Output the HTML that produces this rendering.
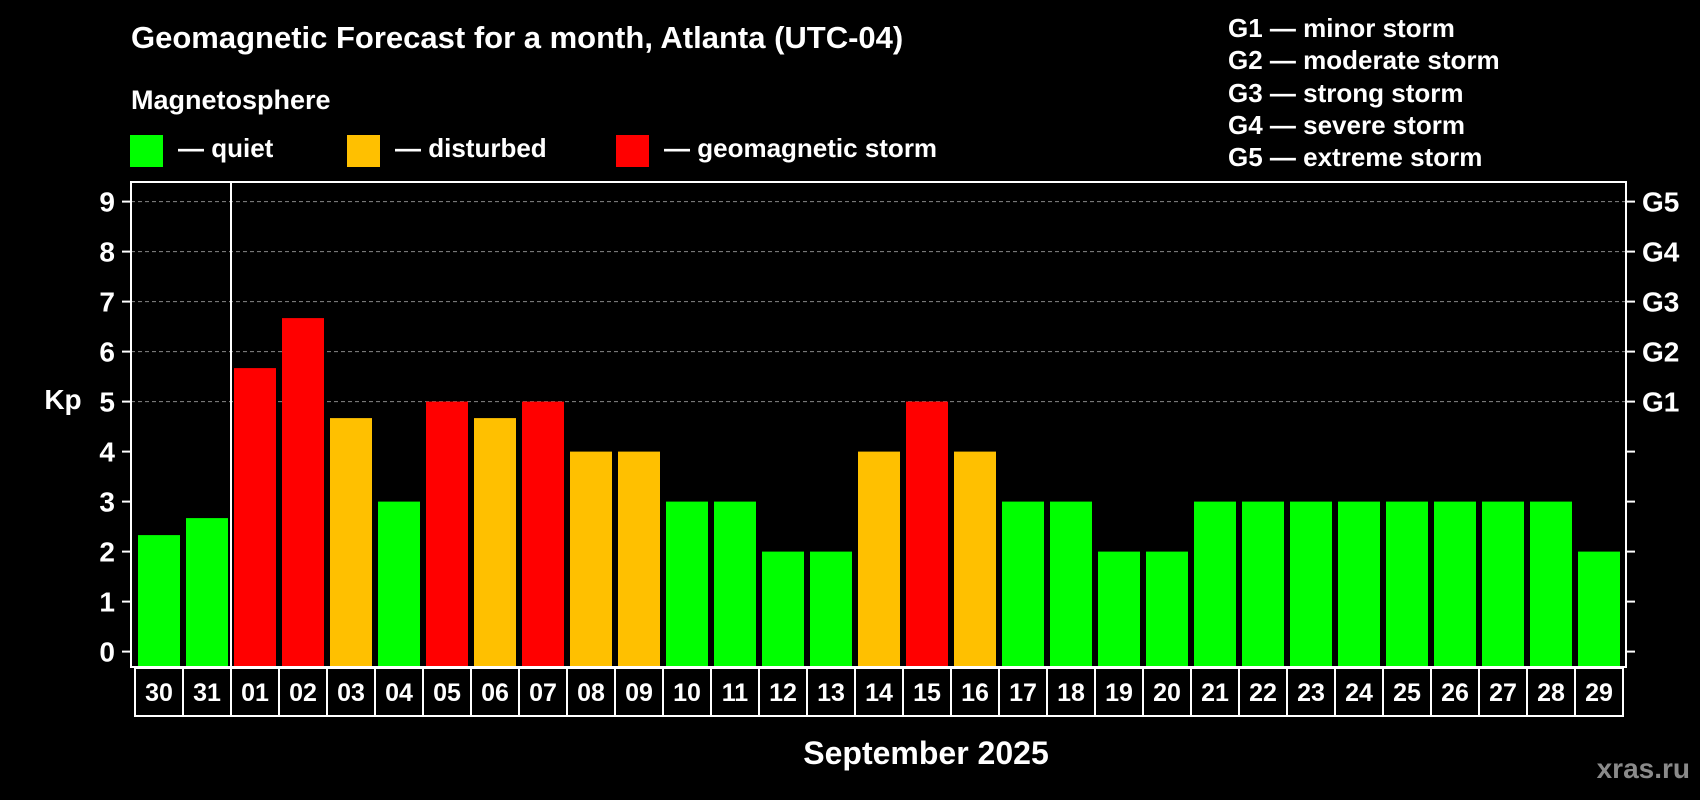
<!DOCTYPE html>
<html><head><meta charset="utf-8"><style>
html,body{margin:0;padding:0;background:#000;}
svg{display:block;font-family:"Liberation Sans",Arial,sans-serif;font-weight:bold;}
</style></head><body>
<svg id="chart" width="1700" height="800" viewBox="0 0 1700 800" xmlns="http://www.w3.org/2000/svg">
<rect width="1700" height="800" fill="#000"/>
<text x="131" y="48" fill="#fff" font-size="31">Geomagnetic Forecast for a month, Atlanta (UTC-04)</text>
<text x="131" y="109" fill="#fff" font-size="27">Magnetosphere</text>
<g><rect x="130" y="135" width="33" height="32" fill="#00ff00"/><text x="178" y="157" fill="#fff" font-size="26">— quiet</text></g>
<g><rect x="347" y="135" width="33" height="32" fill="#ffc000"/><text x="395" y="157" fill="#fff" font-size="26">— disturbed</text></g>
<g><rect x="616" y="135" width="33" height="32" fill="#ff0000"/><text x="664" y="157" fill="#fff" font-size="26">— geomagnetic storm</text></g>
<g fill="#fff" font-size="26">
<text x="1228" y="37">G1 — minor storm</text>
<text x="1228" y="69">G2 — moderate storm</text>
<text x="1228" y="102">G3 — strong storm</text>
<text x="1228" y="134">G4 — severe storm</text>
<text x="1228" y="166">G5 — extreme storm</text>
</g>
<g id="grid"></g>
<g id="bars"></g>
<g id="axes"></g>
<text x="63" y="409" fill="#fff" font-size="28" text-anchor="middle">Kp</text>
<text x="926" y="764" fill="#fff" font-size="32" text-anchor="middle">September 2025</text>
<text x="1690" y="778" fill="#8a8a8a" font-size="28" text-anchor="end">xras.ru</text>
</svg>
<script>
const days = ["30","31","01","02","03","04","05","06","07","08","09","10","11","12","13","14","15","16","17","18","19","20","21","22","23","24","25","26","27","28","29"];
const kpValues = [2.33,2.67,5.67,6.67,4.67,3,5,4.67,5,4,4,3,3,2,2,4,5,4,3,3,2,2,3,3,3,3,3,3,3,3,2];
const yTicks = [0,1,2,3,4,5,6,7,8,9];
const gLabels = ["G1","G2","G3","G4","G5"];
const gLevels = [5,6,7,8,9];

const NS = "http://www.w3.org/2000/svg";
const L = 131, R = 1626, T = 182, B = 667;
const y0 = 651.6, unit = 50;
function yScale(v){ return y0 - v * unit; }
function xScale(i){ return 135 + i * 48; }
function colorFor(v){ return v >= 5 ? "#ff0000" : (v >= 4 ? "#ffc000" : "#00ff00"); }
function mk(tag, attrs, parent){ const e = document.createElementNS(NS, tag); for (const k in attrs) e.setAttribute(k, attrs[k]); parent.appendChild(e); return e; }

const grid = document.getElementById("grid"), bars = document.getElementById("bars"), axes = document.getElementById("axes");
gLevels.forEach((lv, i) => {
  const ln = mk("line", {x1:L, x2:R, y1:yScale(lv), y2:yScale(lv), stroke:"#888", "stroke-width":1, "stroke-dasharray":"4,3"}, grid);
  
  
  const t = mk("text", {x:1642, y:yScale(lv)+10, fill:"#fff", "font-size":28}, axes);
  t.textContent = gLabels[i];
  
  
});
kpValues.forEach((v, i) => {
  const x = xScale(i) + 3;
  const r = mk("rect", {x:x, y:yScale(v), width:42, height:B - 1 - yScale(v), fill:colorFor(v)}, bars);
  
  
  const c = mk("rect", {x:xScale(i), y:668, width:48, height:48, fill:"none", stroke:"#fff", "stroke-width":2}, axes);
  
  
  const t = mk("text", {x:xScale(i)+24, y:701, fill:"#fff", "font-size":25, "text-anchor":"middle"}, axes);
  t.textContent = days[i];
  
  
});
const frame = mk("rect", {x:L, y:T, width:R-L, height:B-T, fill:"none", stroke:"#fff", "stroke-width":2}, axes);


const div = mk("line", {x1:231, x2:231, y1:T, y2:B, stroke:"#fff", "stroke-width":2}, axes);


yTicks.forEach(v => {
  const y = yScale(v);
  const a = mk("line", {x1:122, x2:L, y1:y, y2:y, stroke:"#fff", "stroke-width":2}, axes);
  
  
  const b = mk("line", {x1:R, x2:1635, y1:y, y2:y, stroke:"#fff", "stroke-width":2}, axes);
  
  
  const t = mk("text", {x:115, y:y+10, fill:"#fff", "font-size":28, "text-anchor":"end"}, axes);
  t.textContent = v;
  
  
});
</script>
</body></html>
